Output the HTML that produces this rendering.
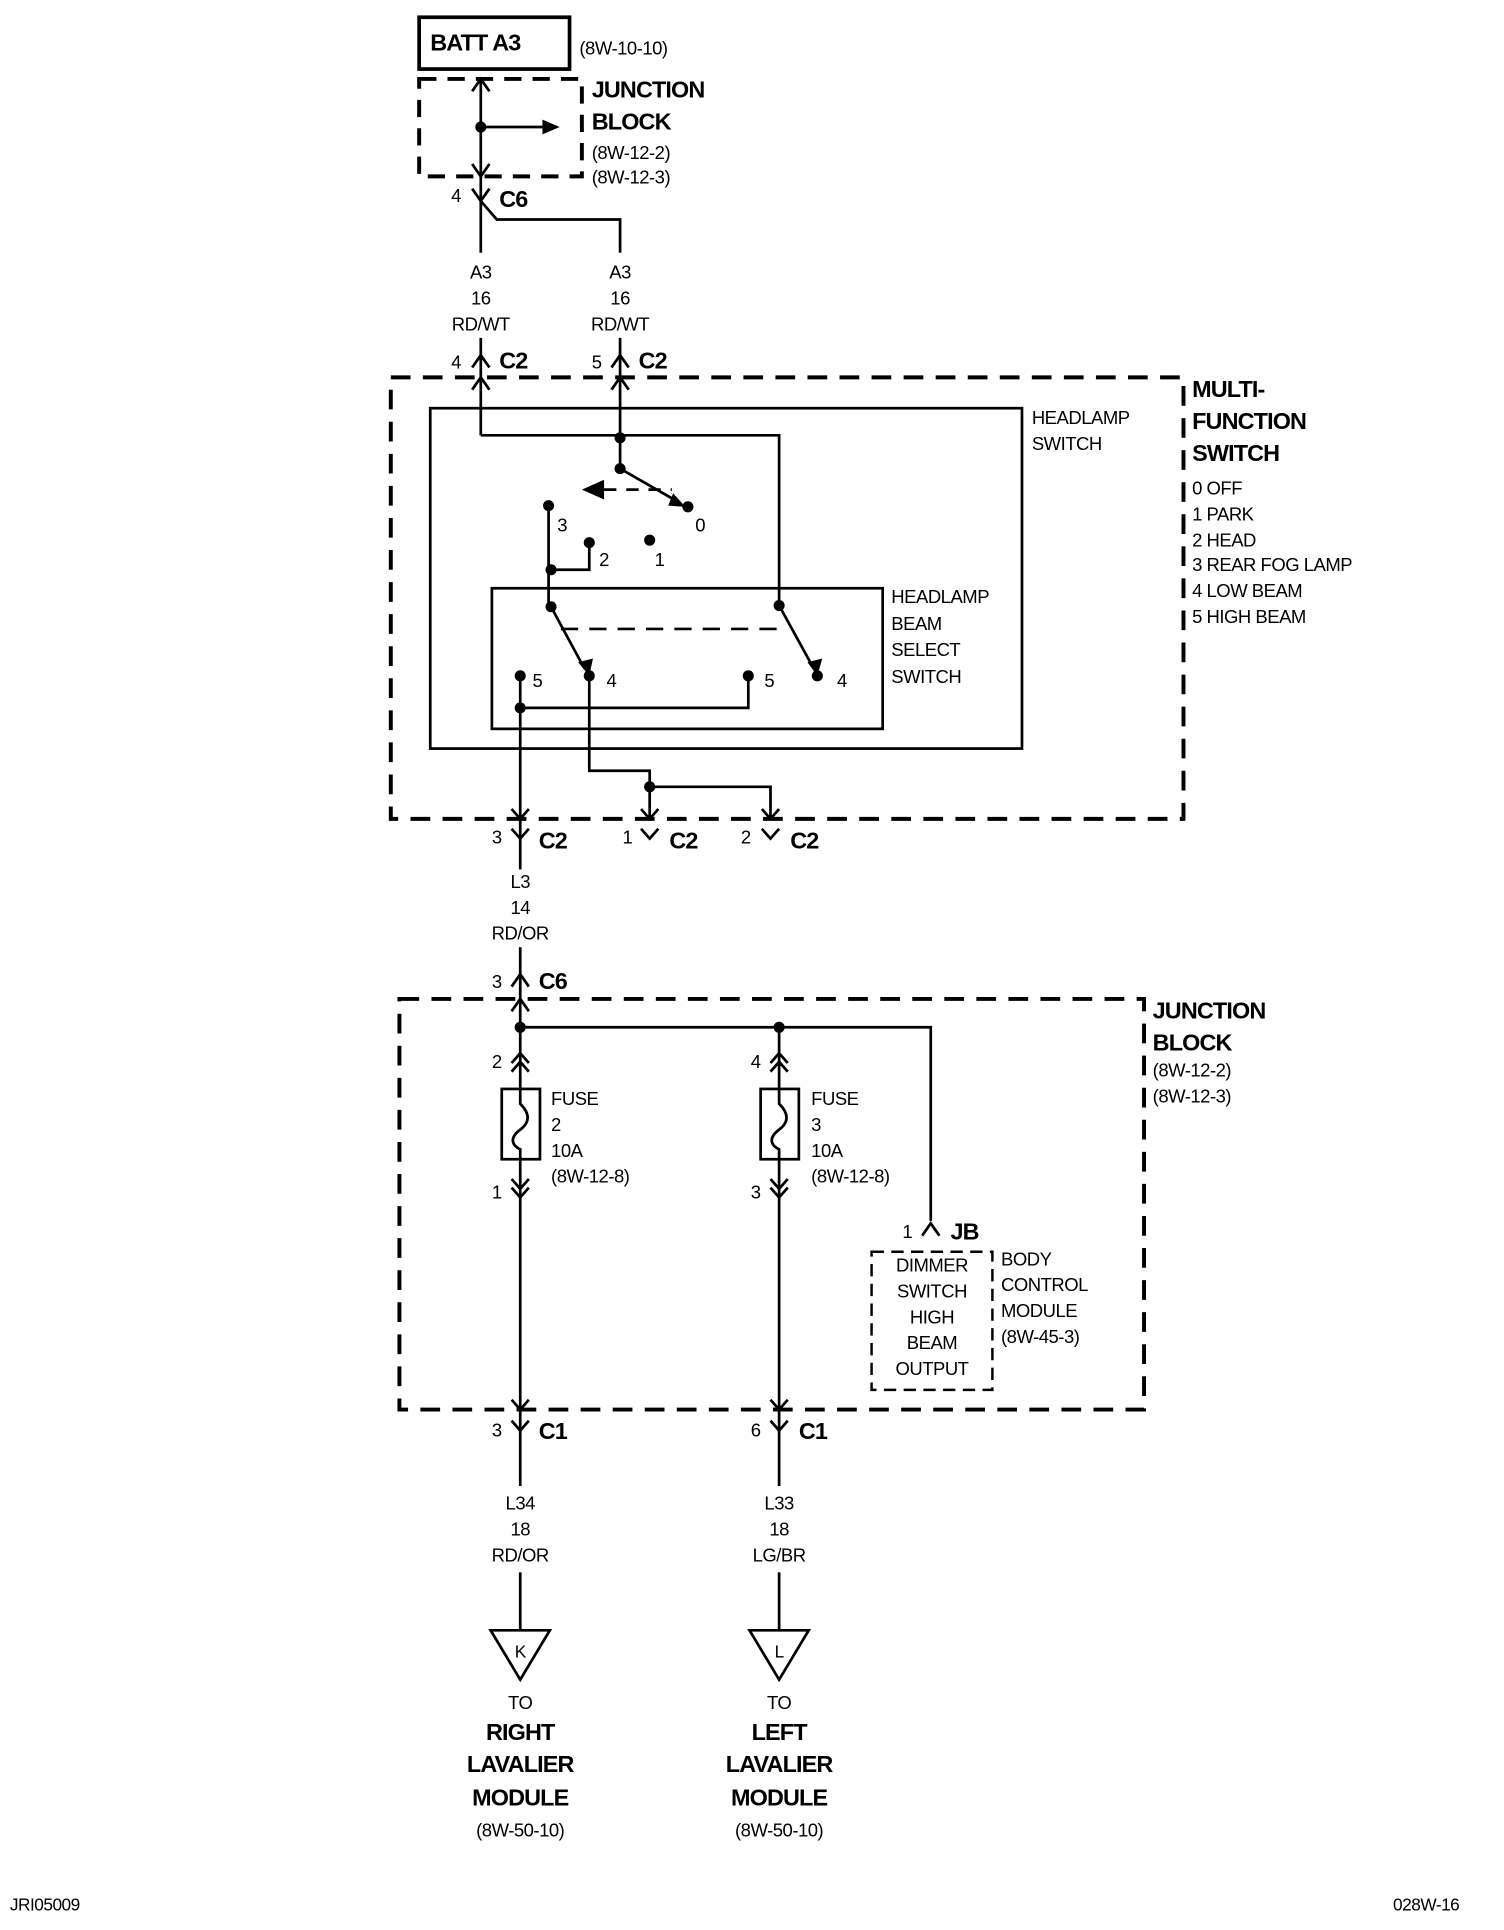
<!DOCTYPE html>
<html><head><meta charset="utf-8"><style>
html,body{margin:0;padding:0;background:#fff}
svg{display:block}
text{font-family:"Liberation Sans Narrow","Liberation Sans",sans-serif;fill:#000;font-size:15px;letter-spacing:-0.4px}
.b{font-weight:bold;font-size:19px;letter-spacing:-0.7px}
.c{text-anchor:middle}
</style></head><body>
<svg width="1504" height="1930" viewBox="0 0 1220 1565" preserveAspectRatio="none" xmlns="http://www.w3.org/2000/svg">
<g fill="none" stroke="#000" stroke-width="2.2">
<rect x="340" y="14" width="122" height="42" stroke-width="3"/>
<rect x="340" y="64" width="132" height="79" stroke-width="3.2" stroke-dasharray="14,9"/>
<line x1="390" y1="64" x2="390" y2="205"/>
<polyline points="383,74 390,64 397,74"/>
<polyline points="383,133 390,143 397,133"/>
<line x1="390" y1="103" x2="440" y2="103"/>
<polyline points="390,163 403,178 503,178 503,205"/>
<polyline points="383,153 390,163 397,153"/>
<line x1="390" y1="274" x2="390" y2="353"/>
<line x1="503" y1="274" x2="503" y2="380"/>
<polyline points="383,298 390,288 397,298"/>
<polyline points="496,298 503,288 510,298"/>
<polyline points="383,316 390,306 397,316"/>
<polyline points="496,316 503,306 510,316"/>
<rect x="317" y="306" width="643" height="358" stroke-width="3.2" stroke-dasharray="16,10"/>
<rect x="349" y="331" width="480" height="276"/>
<rect x="399" y="477" width="317" height="114"/>
<polyline points="390,353 632,353 632,491"/>
<line x1="503" y1="380" x2="552" y2="408"/>
<line x1="490" y1="397" x2="545" y2="397" stroke-dasharray="10,8"/>
<polyline points="445,410 445,492"/>
<polyline points="478,440 478,462 447,462"/>
<line x1="447" y1="492" x2="474" y2="542"/>
<line x1="632" y1="491" x2="660" y2="542"/>
<line x1="455" y1="510" x2="632" y2="510" stroke-dasharray="14,9"/>
<line x1="422" y1="548" x2="422" y2="664"/>
<polyline points="422,574 607,574 607,548"/>
<polyline points="478,548 478,625 527,625 527,664"/>
<polyline points="527,638 625,638 625,664"/>
<polyline points="415,656 422,664 429,656"/>
<polyline points="520,656 527,664 534,656"/>
<polyline points="618,656 625,664 632,656"/>
<polyline points="415,672 422,680 429,672"/>
<polyline points="520,672 527,680 534,672"/>
<polyline points="618,672 625,680 632,672"/>
<line x1="422" y1="664" x2="422" y2="705"/>
<line x1="422" y1="768" x2="422" y2="1143"/>
<polyline points="415,800 422,790 429,800"/>
<polyline points="415,820 422,810 429,820"/>
<rect x="324" y="810" width="604" height="333" stroke-width="3.2" stroke-dasharray="16,10"/>
<polyline points="422,833 755,833 755,990"/>
<line x1="632" y1="833" x2="632" y2="1143"/>
<polyline points="415,862 422,854 429,862"/><polyline points="415,869 422,861 429,869"/>
<polyline points="625,862 632,854 639,862"/><polyline points="625,869 632,861 639,869"/>
<polyline points="415,956 422,964 429,956"/><polyline points="415,963 422,971 429,963"/>
<polyline points="625,956 632,964 639,956"/><polyline points="625,963 632,971 639,963"/>
<rect x="407" y="883" width="31" height="57" fill="#fff"/>
<rect x="617" y="883" width="31" height="57" fill="#fff"/>
<path d="M422,883 L422,895 C430,903 430,910 422,916 C414,922 414,928 422,932 L422,940"/>
<path d="M632,883 L632,895 C640,903 640,910 632,916 C624,922 624,928 632,932 L632,940"/>
<polyline points="748,1002 755,992 762,1002"/>
<rect x="707" y="1015" width="98" height="112" stroke-dasharray="10,6" stroke-width="2"/>
<polyline points="415,1135 422,1143 429,1135"/>
<polyline points="625,1135 632,1143 639,1135"/>
<polyline points="415,1152 422,1160 429,1152"/>
<polyline points="625,1152 632,1160 639,1152"/>
<line x1="422" y1="1143" x2="422" y2="1205"/>
<line x1="632" y1="1143" x2="632" y2="1205"/>
<line x1="422" y1="1275" x2="422" y2="1322"/>
<line x1="632" y1="1275" x2="632" y2="1322"/>
<polygon points="398,1322 446,1322 422,1362"/>
<polygon points="608,1322 656,1322 632,1362"/>
</g>
<g fill="#000">
<polygon points="440,97 454,103 440,109"/>
<polygon points="472,397 490,389 490,405"/>
<polygon points="546,400 556,411 542,410"/>
<polygon points="469,537 478,548 481,534"/>
<polygon points="655,537 663,548 667,534"/>
<circle cx="390" cy="103" r="4.5"/>
<circle cx="503" cy="355" r="4.5"/><circle cx="503" cy="380" r="4.5"/><circle cx="558" cy="411" r="4.5"/>
<circle cx="445" cy="410" r="4.5"/><circle cx="478" cy="440" r="4.5"/><circle cx="527" cy="438" r="4.5"/>
<circle cx="447" cy="462" r="4.5"/><circle cx="447" cy="492" r="4.5"/><circle cx="632" cy="491" r="4.5"/>
<circle cx="422" cy="548" r="4.5"/><circle cx="478" cy="548" r="4.5"/><circle cx="607" cy="548" r="4.5"/><circle cx="663" cy="548" r="4.5"/>
<circle cx="422" cy="574" r="4.5"/><circle cx="527" cy="638" r="4.5"/>
<circle cx="422" cy="833" r="4.5"/><circle cx="632" cy="833" r="4.5"/>
</g>
<text x="349" y="41" class="b">BATT A3</text>
<text x="470" y="44">(8W-10-10)</text>
<text x="480" y="79" class="b">JUNCTION</text>
<text x="480" y="105" class="b">BLOCK</text>
<text x="480" y="129">(8W-12-2)</text>
<text x="480" y="149">(8W-12-3)</text>
<text x="366" y="164">4</text><text x="405" y="168" class="b">C6</text>
<text x="390" y="226" class="c">A3</text><text x="390" y="247" class="c">16</text><text x="390" y="268" class="c">RD/WT</text>
<text x="503" y="226" class="c">A3</text><text x="503" y="247" class="c">16</text><text x="503" y="268" class="c">RD/WT</text>
<text x="366" y="299">4</text><text x="405" y="299" class="b">C2</text>
<text x="480" y="299">5</text><text x="518" y="299" class="b">C2</text>
<text x="967" y="322" class="b">MULTI-</text>
<text x="967" y="348" class="b">FUNCTION</text>
<text x="967" y="374" class="b">SWITCH</text>
<text x="967" y="401">0 OFF</text><text x="967" y="422">1 PARK</text><text x="967" y="443">2 HEAD</text>
<text x="967" y="463">3 REAR FOG LAMP</text><text x="967" y="484">4 LOW BEAM</text><text x="967" y="505">5 HIGH BEAM</text>
<text x="837" y="344">HEADLAMP</text><text x="837" y="365">SWITCH</text>
<text x="723" y="489">HEADLAMP</text><text x="723" y="511">BEAM</text><text x="723" y="532">SELECT</text><text x="723" y="554">SWITCH</text>
<text x="564" y="431">0</text><text x="452" y="431">3</text><text x="486" y="459">2</text><text x="531" y="459">1</text>
<text x="432" y="557">5</text><text x="492" y="557">4</text><text x="620" y="557">5</text><text x="679" y="557">4</text>
<text x="399" y="684">3</text><text x="437" y="688" class="b">C2</text>
<text x="505" y="684">1</text><text x="543" y="688" class="b">C2</text>
<text x="601" y="684">2</text><text x="641" y="688" class="b">C2</text>
<text x="422" y="720" class="c">L3</text><text x="422" y="741" class="c">14</text><text x="422" y="762" class="c">RD/OR</text>
<text x="399" y="801">3</text><text x="437" y="802" class="b">C6</text>
<text x="935" y="826" class="b">JUNCTION</text><text x="935" y="852" class="b">BLOCK</text>
<text x="935" y="873">(8W-12-2)</text><text x="935" y="894">(8W-12-3)</text>
<text x="399" y="866">2</text><text x="609" y="866">4</text>
<text x="447" y="896">FUSE</text><text x="447" y="917">2</text><text x="447" y="938">10A</text><text x="447" y="959">(8W-12-8)</text>
<text x="658" y="896">FUSE</text><text x="658" y="917">3</text><text x="658" y="938">10A</text><text x="658" y="959">(8W-12-8)</text>
<text x="399" y="972">1</text><text x="609" y="972">3</text>
<text x="732" y="1004">1</text><text x="771" y="1005" class="b">JB</text>
<text x="756" y="1031" class="c">DIMMER</text><text x="756" y="1052" class="c">SWITCH</text><text x="756" y="1073" class="c">HIGH</text><text x="756" y="1094" class="c">BEAM</text><text x="756" y="1115" class="c">OUTPUT</text>
<text x="812" y="1026">BODY</text><text x="812" y="1047">CONTROL</text><text x="812" y="1068">MODULE</text><text x="812" y="1089">(8W-45-3)</text>
<text x="399" y="1165">3</text><text x="437" y="1167" class="b">C1</text>
<text x="609" y="1165">6</text><text x="648" y="1167" class="b">C1</text>
<text x="422" y="1224" class="c">L34</text><text x="422" y="1245" class="c">18</text><text x="422" y="1266" class="c">RD/OR</text>
<text x="632" y="1224" class="c">L33</text><text x="632" y="1245" class="c">18</text><text x="632" y="1266" class="c">LG/BR</text>
<text x="422" y="1344" class="c" style="font-size:14px">K</text>
<text x="632" y="1344" class="c" style="font-size:14px">L</text>
<text x="422" y="1386" class="c">TO</text><text x="422" y="1411" class="c b">RIGHT</text><text x="422" y="1437" class="c b">LAVALIER</text><text x="422" y="1464" class="c b">MODULE</text><text x="422" y="1489" class="c">(8W-50-10)</text>
<text x="632" y="1386" class="c">TO</text><text x="632" y="1411" class="c b">LEFT</text><text x="632" y="1437" class="c b">LAVALIER</text><text x="632" y="1464" class="c b">MODULE</text><text x="632" y="1489" class="c">(8W-50-10)</text>
<text x="8" y="1549" style="font-size:14px">JRI05009</text>
<text x="1130" y="1549" style="font-size:14px">028W-16</text>
</svg>
</body></html>
